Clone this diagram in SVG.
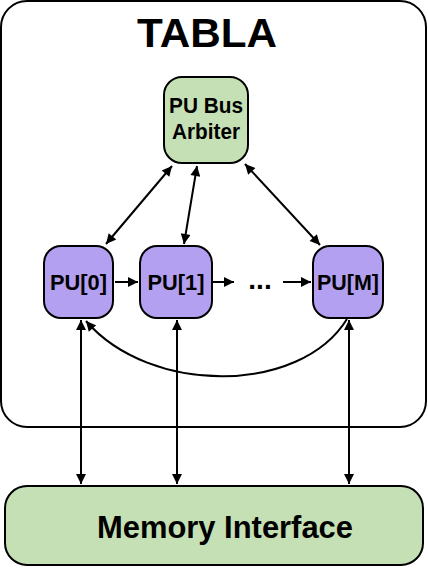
<svg xmlns="http://www.w3.org/2000/svg" width="428" height="568" viewBox="0 0 428 568">
<style>
.box{stroke:#000;stroke-width:2}
.green{fill:#c5e0b4}
.purple{fill:#b4a0f0}
.lbl{font-family:"Liberation Sans",Arial,sans-serif;font-weight:bold;fill:#000;text-anchor:middle}
.c{fill:none;stroke:#000;stroke-width:2}
</style>
<defs>
<marker id="ah" viewBox="0 0 10 10" refX="10" refY="5" markerWidth="6" markerHeight="5" orient="auto-start-reverse" markerUnits="strokeWidth">
<path d="M0,0 L10,5 L0,10 z" fill="#000"/>
</marker>
</defs>
<g id="tabla">
<rect class="box" x="1" y="1" width="425" height="426" rx="26" fill="#fff"/>
<text class="lbl" x="207" y="47" font-size="40" textLength="140" lengthAdjust="spacingAndGlyphs">TABLA</text>
</g>
<g id="arbiter">
<rect class="box green" x="164" y="77" width="84" height="86" rx="18"/>
<text class="lbl" x="206" y="113" font-size="22" textLength="74" lengthAdjust="spacingAndGlyphs">PU Bus</text>
<text class="lbl" x="206" y="139" font-size="22" textLength="68" lengthAdjust="spacingAndGlyphs">Arbiter</text>
</g>
<g id="pu0">
<rect class="box purple" x="44" y="246" width="69" height="72" rx="17"/>
<text class="lbl" x="78.5" y="290" font-size="22" textLength="57" lengthAdjust="spacingAndGlyphs">PU[0]</text>
</g>
<g id="pu1">
<rect class="box purple" x="140" y="246" width="72" height="72" rx="17"/>
<text class="lbl" x="176" y="290" font-size="22" textLength="57" lengthAdjust="spacingAndGlyphs">PU[1]</text>
</g>
<g id="puM">
<rect class="box purple" x="313" y="246" width="70" height="72" rx="17"/>
<text class="lbl" x="348" y="290" font-size="22" textLength="62" lengthAdjust="spacingAndGlyphs">PU[M]</text>
</g>
<g id="dots">
<text class="lbl" x="260" y="289" font-size="28">...</text>
</g>
<g id="memory">
<rect class="box green" x="5" y="486" width="418" height="79" rx="22"/>
<text class="lbl" x="225" y="538" font-size="31" textLength="256" lengthAdjust="spacingAndGlyphs">Memory Interface</text>
</g>
<g id="connectors">
<line class="c" x1="172" y1="166" x2="106" y2="244" marker-start="url(#ah)" marker-end="url(#ah)"/>
<line class="c" x1="197" y1="166" x2="184" y2="244" marker-start="url(#ah)" marker-end="url(#ah)"/>
<line class="c" x1="245" y1="164" x2="320" y2="245" marker-start="url(#ah)" marker-end="url(#ah)"/>
<line class="c" x1="115" y1="282" x2="138" y2="282" marker-end="url(#ah)"/>
<line class="c" x1="213" y1="282" x2="234" y2="282" marker-end="url(#ah)"/>
<line class="c" x1="283" y1="282" x2="311" y2="282" marker-end="url(#ah)"/>
<path class="c" d="M347,319 C300,395 150,395 86,321" marker-end="url(#ah)"/>
<line class="c" x1="81" y1="320" x2="81" y2="484" marker-start="url(#ah)" marker-end="url(#ah)"/>
<line class="c" x1="177" y1="320" x2="177" y2="484" marker-start="url(#ah)" marker-end="url(#ah)"/>
<line class="c" x1="349" y1="320" x2="349" y2="484" marker-start="url(#ah)" marker-end="url(#ah)"/>
</g>
</svg>
